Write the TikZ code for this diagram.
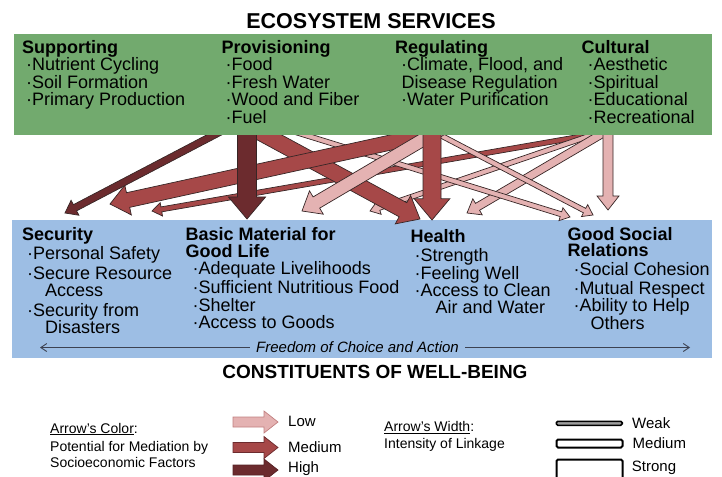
\documentclass[tikz,border=0pt]{standalone}
\usepackage{fontspec}
\setmainfont{Liberation Sans}
\usetikzlibrary{calc,positioning,arrows.meta}

\definecolor{svcgreen}{RGB}{114,170,110}
\definecolor{wbblue}{RGB}{157,190,228}
\definecolor{linklow}{RGB}{228,178,178}
\definecolor{linkmed}{RGB}{166,72,72}
\definecolor{linkhigh}{RGB}{108,43,46}
\definecolor{linkedge}{RGB}{55,38,38}
\definecolor{freedomline}{RGB}{60,66,82}

\tikzset{
	heading/.style={font=\bfseries\fontsize{21.5}{24}\selectfont,anchor=base,inner sep=0pt},
	colblock/.style={anchor=north west,inner sep=0pt,align=left,font=\fontsize{18}{17.5}\selectfont},
	legtext/.style={anchor=north west,inner sep=0pt,align=left,font=\fontsize{14}{16.5}\selectfont},
	legkey/.style={anchor=west,inner sep=0pt,font=\fontsize{15}{17}\selectfont},
	linkline/.style={draw=linkedge,line width=0.7pt,line join=miter},
	barkey/.style={draw,line width=2pt,fill=white,rounded corners=1.5pt,minimum width=66pt,inner sep=0pt,anchor=north west}
}

% bullet with indent
\newcommand{\bul}[1][4pt]{\hspace*{#1}\textperiodcentered}

% block arrow: [edge colour]{from}{to}{shaft width}{fill}
\newcommand{\linkarrow}[5][linkedge]{%
	\pgfmathsetmacro{\lasw}{0.5*#4}%
	\pgfmathsetmacro{\lahw}{0.85*#4+2.5}%
	\pgfmathsetmacro{\lahl}{0.9*#4+5}%
	\coordinate (la-s) at ($(#2)!-12pt!(#3)$);
	\coordinate (la-h) at ($(#3)!\lahl pt!(#2)$);
	\draw[linkline,draw=#1,fill=#5] ($(la-s)!\lasw pt!90:(#3)$) -- ($(la-h)!\lasw pt!90:(#3)$)
		-- ($(la-h)!\lahw pt!90:(#3)$) -- (#3) -- ($(la-h)!\lahw pt!-90:(#3)$)
		-- ($(la-h)!\lasw pt!-90:(#3)$) -- ($(la-s)!\lasw pt!-90:(#3)$) -- cycle;
}

\begin{document}
\begin{tikzpicture}[x=1pt,y=-1pt]
	\path[use as bounding box] (0,0) rectangle (722,476);
	\clip (0,0) rectangle (722,476);

	\node[heading] (es-title) at (371,28.3) {ECOSYSTEM SERVICES};

	% well-being box first, the arrows sit on it
	\node[fill=wbblue,inner sep=0pt,anchor=north west,minimum width=700pt,minimum height=138pt] (wellbeing) at (12,220) {};

	% arrow ends
	\coordinate (prov-sec) at (214,135);   \coordinate (sec-a) at (65,213);
	\coordinate (prov-bas) at (247,135);   \coordinate (bas-a) at (247,219);
	\coordinate (prov-hea) at (265,135);   \coordinate (hea-a) at (420,219);
	\coordinate (prov-soc) at (305,135);   \coordinate (soc-a) at (570,217);
	\coordinate (reg-sec) at (425,135);    \coordinate (sec-b) at (110,204);
	\coordinate (reg-bas) at (431,135);    \coordinate (bas-b) at (302,211);
	\coordinate (reg-hea) at (432,135);    \coordinate (hea-b) at (432,220);
	\coordinate (reg-soc) at (440,135);    \coordinate (soc-b) at (593,215);
	\coordinate (cul-sec) at (590,135);    \coordinate (sec-c) at (152,211);
	\coordinate (cul-bas) at (592,135);    \coordinate (bas-c) at (370,211);
	\coordinate (cul-hea) at (600,135);    \coordinate (hea-c) at (467,213);
	\coordinate (cul-soc) at (608,135);    \coordinate (soc-c) at (608,210);

	% links, back to front
	\linkarrow{cul-sec}{sec-c}{5}{linkmed}
	\linkarrow{cul-bas}{bas-c}{5}{linklow}
	\linkarrow{cul-hea}{hea-c}{8}{linklow}
	\linkarrow{cul-soc}{soc-c}{10}{linklow}
	\linkarrow{prov-soc}{soc-a}{5}{linklow}
	\linkarrow{reg-soc}{soc-b}{5}{linklow}
	\linkarrow{prov-hea}{hea-a}{16}{linkmed}
	\linkarrow{reg-sec}{sec-b}{15}{linkmed}
	\linkarrow{prov-sec}{sec-a}{7}{linkhigh}
	\linkarrow{reg-bas}{bas-b}{13}{linklow}
	\linkarrow{prov-bas}{bas-a}{19}{linkhigh}
	\linkarrow{reg-hea}{hea-b}{18}{linkmed}

	% services box on top of the arrow tails
	\node[fill=svcgreen,inner sep=0pt,anchor=north west,minimum width=698pt,minimum height=101pt] (services) at (14,34) {};

	\node[colblock] (supporting) at (22,39.8) {\textbf{Supporting}\\
		\bul Nutrient Cycling\\ \bul Soil Formation\\ \bul Primary Production};
	\node[colblock] (provisioning) at (221.5,39.8) {\textbf{Provisioning}\\
		\bul Food\\ \bul Fresh Water\\ \bul Wood and Fiber\\ \bul Fuel};
	\node[colblock] (regulating) at (395,40) {\textbf{Regulating}\\
		\bul[6pt]Climate, Flood, and\\ \hspace*{6.5pt}Disease Regulation\\ \bul[6pt]Water Purification};
	\node[colblock] (cultural) at (581.5,39.8) {\textbf{Cultural}\\
		\bul[6pt]Aesthetic\\ \bul[6pt]Spiritual\\ \bul[6pt]Educational\\ \bul[6pt]Recreational};

	\node[colblock] (security) at (22,227.6) {\textbf{Security}\\[1.5pt]
		\bul[5pt]Personal Safety\\[2pt] \bul[5pt]Secure Resource\\ \hspace*{23pt}Access\\[2pt]
		\bul[5pt]Security from\\ \hspace*{23pt}Disasters};
	\node[colblock] (basic) at (185.5,227.6) {\textbf{Basic Material for}\\[-1pt] \textbf{Good Life}\\
		\bul[7pt]Adequate Livelihoods\\[1.5pt] \bul[7pt]Sufficient Nutritious Food\\
		\bul[7pt]Shelter\\ \bul[7pt]Access to Goods};
	\node[colblock] (health) at (410.5,229.6) {\textbf{Health}\\[1.5pt]
		\bul Strength\\ \bul Feeling Well\\[-0.5pt] \bul Access to Clean\\ \hspace*{25pt}Air and Water};
	\node[colblock] (social) at (567.3,226.9) {\textbf{Good Social}\\[-1pt] \textbf{Relations}\\[1pt]
		\bul[6pt]Social Cohesion\\[1.5pt] \bul[6pt]Mutual Respect\\ \bul[6pt]Ability to Help\\ \hspace*{23pt}Others};

	% freedom of choice
	\node[font=\itshape\fontsize{15}{17}\selectfont,inner xsep=6pt,inner ysep=0pt] (freedom) at (357.5,347.5) {Freedom of Choice and Action};
	\coordinate (free-l) at (40,347.5);
	\coordinate (free-r) at (690,347.5);
	\draw[freedomline,line width=0.9pt,-{Straight Barb[length=6pt,width=8pt]}] (freedom.west) -- (free-l);
	\draw[freedomline,line width=0.9pt,-{Straight Barb[length=6pt,width=8pt]}] (freedom.east) -- (free-r);

	\node[heading,font=\bfseries\fontsize{19}{22}\selectfont] (wb-title) at (375,378) {CONSTITUENTS OF WELL-BEING};

	% legend: colour
	\node[legtext] (color-key) at (50,422.8) {\underline{Arrow’s Color}:\\[1.5pt]
		Potential for Mediation by\\ Socioeconomic Factors};
	\coordinate (low-a) at (245,422);    \coordinate (low-b) at (278,422);
	\coordinate (med-a) at (245,447.5);  \coordinate (med-b) at (278,447.5);
	\coordinate (high-a) at (245,470);   \coordinate (high-b) at (278,470);
	\linkarrow[linkmed!70]{low-a}{low-b}{10}{linklow}
	\linkarrow[linkhigh]{med-a}{med-b}{10}{linkmed}
	\linkarrow[linkhigh!80!black]{high-a}{high-b}{10}{linkhigh}
	\node[legkey] (low-lbl) at (288,421.5) {Low};
	\node[legkey] (med-lbl) at (288,447) {Medium};
	\node[legkey] (high-lbl) at (288,468.5) {High};

	% legend: width
	\node[legtext] (width-key) at (384,421.5) {\underline{Arrow’s Width}:\\ Intensity of Linkage};
	\node[barkey,line width=1.5pt,fill=black!38,minimum height=4pt] (weak-bar) at (555.5,420.5) {};
	\node[barkey,minimum height=8pt] (medium-bar) at (555.5,438.5) {};
	\node[barkey,minimum height=24pt] (strong-bar) at (555.5,458.5) {};
	\node[legkey,right=9pt of weak-bar] (weak-lbl) {Weak};
	\node[legkey,right=9pt of medium-bar,yshift=0.5pt] (medium-lbl) {Medium};
	\node[legkey] (strong-lbl) at (631.7,467.5) {Strong};
\end{tikzpicture}
\end{document}
